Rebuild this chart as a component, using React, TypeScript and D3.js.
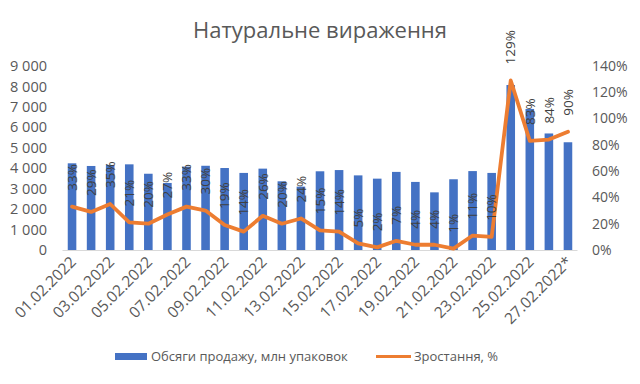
import React from 'react';
import * as d3 from 'd3';

const dates = [
  '01.02.2022', '02.02.2022', '03.02.2022', '04.02.2022', '05.02.2022', '06.02.2022', '07.02.2022',
  '08.02.2022', '09.02.2022', '10.02.2022', '11.02.2022', '12.02.2022', '13.02.2022', '14.02.2022',
  '15.02.2022', '16.02.2022', '17.02.2022', '18.02.2022', '19.02.2022', '20.02.2022', '21.02.2022',
  '22.02.2022', '23.02.2022', '24.02.2022', '25.02.2022', '26.02.2022', '27.02.2022*',
];
const sales = [
  4240, 4110, 4160, 4190, 3730, 3280, 4080, 4120, 4010, 3770, 3980, 3360, 3100, 3850,
  3910, 3650, 3490, 3820, 3330, 2820, 3460, 3860, 3770, 8070, 6900, 5700, 5270,
];
const growth = [
  33, 29, 35, 21, 20, 27, 33, 30, 19, 14, 26, 20, 24, 15, 14, 5, 2, 7, 4, 4, 1, 11, 10, 129, 83, 84, 90,
];
const leftTicks = [0, 1000, 2000, 3000, 4000, 5000, 6000, 7000, 8000, 9000];
const rightTicks = [0, 20, 40, 60, 80, 100, 120, 140];

const W = 640;
const H = 384;
const font = '"Open Sans", sans-serif';
const blue = '#4472C4';
const orange = '#ED7D31';
const textGray = '#595959';

export default function App() {
  const x = d3.scaleBand<string>().domain(dates).range([62.5, 577.5]).paddingInner(0.55).paddingOuter(0.275);
  const yL = d3.scaleLinear().domain([0, 9000]).range([250, 66]);
  const yR = d3.scaleLinear().domain([0, 140]).range([250, 66]);
  const cx = (d: string) => (x(d) ?? 0) + x.bandwidth() / 2;

  const line = d3.line<number>()
    .x((_, i) => cx(dates[i]))
    .y(d => yR(d));

  const fmt = (v: number) => d3.format(',')(v).replace(/,/g, ' ');

  return (
    <div style={{ margin: -8 }}>
      <svg width={W} height={H} style={{ display: 'block', fontFamily: font }}>
        <rect x={0} y={0} width={W} height={H} fill="#fff" />
        <rect x={0.5} y={0.5} width={639} height={382} fill="none" stroke="#d9d9d9" />

        <text x={320} y={38} textAnchor="middle" fontSize={22} fill={textGray}>
          Натуральне вираження
        </text>

        {/* bars */}
        {sales.map((v, i) => (
          <rect key={i} x={x(dates[i])} y={yL(v)} width={x.bandwidth()} height={yL(0) - yL(v)} fill={blue} />
        ))}

        {/* baseline */}
        <line x1={62.5} x2={577.5} y1={250.5} y2={250.5} stroke="#d9d9d9" />

        {/* left axis */}
        {leftTicks.map(t => (
          <text key={t} x={47} y={yL(t)} dy="0.35em" textAnchor="end" fontSize={14.5} fill={textGray}>
            {fmt(t)}
          </text>
        ))}
        {/* right axis */}
        {rightTicks.map(t => (
          <text key={t} x={592} y={yR(t)} dy="0.35em" textAnchor="start" fontSize={14} fill={textGray}>
            {t}%
          </text>
        ))}

        {/* x labels */}
        {dates.map((d, i) => i % 2 === 0 ? (
          <text key={d} transform={`translate(${cx(d) + 5},${263}) rotate(-45)`} textAnchor="end"
            fontSize={15.5} fill={textGray}>
            {d}
          </text>
        ) : null)}

        {/* growth line */}
        <path d={line(growth) ?? ''} fill="none" stroke={orange} strokeWidth={3.8} strokeLinejoin="round" strokeLinecap="round" />

        {/* data labels */}
        {growth.map((g, i) => (
          <text key={i} transform={`translate(${cx(dates[i])},${yR(g) - 16}) rotate(-90)`} dy="0.35em"
            textAnchor="start" fontSize={13.5} fill="#404040">
            {g}%
          </text>
        ))}

        {/* legend */}
        <rect x={115} y={353} width={32} height={7} fill={blue} />
        <text x={151} y={361} fontSize={13} fill={textGray}>Обсяги продажу, млн упаковок</text>
        <line x1={376} x2={411} y1={356.5} y2={356.5} stroke={orange} strokeWidth={3} />
        <text x={414} y={361} fontSize={13} fill={textGray}>Зростання, %</text>
      </svg>
    </div>
  );
}
